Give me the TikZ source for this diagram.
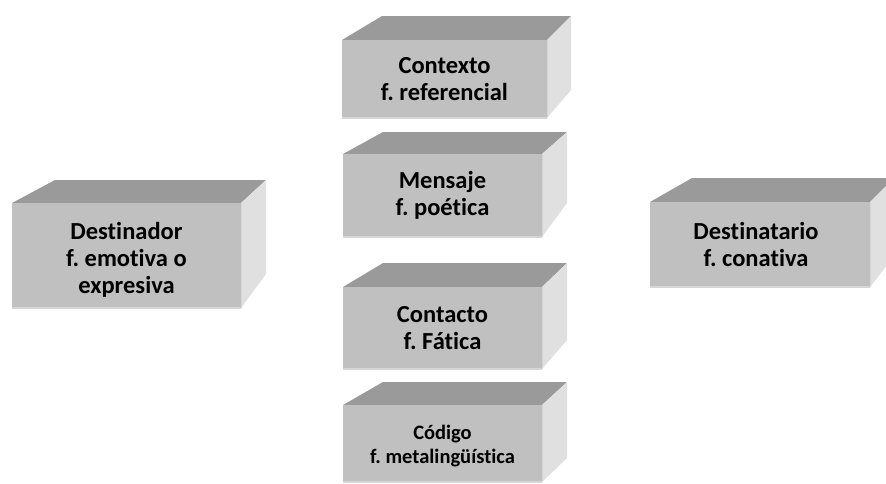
\documentclass[tikz,border=0pt]{standalone}
\usepackage{fontspec}
\setmainfont{Carlito}[Ligatures={NoCommon,TeX}]
\frenchspacing
\definecolor{topc}{HTML}{9A9A9A}
\definecolor{frontc}{HTML}{C0C0C0}
\definecolor{sidec}{HTML}{E0E0E0}
\definecolor{edgec}{HTML}{D6D6D6}
% #1 name, #2 x1, #3 y1, #4 x2, #5 y2 (front), #6 back top y, #7 back left x, #8 back right x, #9 back bottom y
\newcommand\cubebox[9]{%
  \fill[topc] (#2,#3) -- (#7,#6) -- (#8,#6) -- (#4,#3) -- cycle;
  \fill[sidec] (#4,#3) -- (#8,#6) -- (#8,#9) -- (#4,#5) -- cycle;
  \fill[frontc] (#2,#3) rectangle (#4,#5);
  \draw[edgec, line width=1.5pt] (#2,#5) -- (#4,#5);
  \draw[edgec, line width=1pt] (#4,#3) -- (#4,#5);
  \coordinate (#1) at ({(#2+#4)/2},{(#3+#5)/2});
}
\tikzset{
  lbl/.style={align=center, inner sep=0pt, font=\bfseries\fontsize{24.5}{27}\selectfont},
  lblsmall/.style={align=center, inner sep=0pt, font=\bfseries\fontsize{20.5}{24}\selectfont}
}
\begin{document}
\begin{tikzpicture}[x=1pt,y=-1pt]
\useasboundingbox (0,0) rectangle (886,483);
\fill[white] (0,0) rectangle (886,483);
\cubebox{ctxc}{342}{40}{547}{118}{16}{382}{571}{90}
\cubebox{mnsc}{343}{154}{542}{237}{132}{383}{567}{203}
\cubebox{cntc}{343}{287}{542}{369}{263}{383}{567}{340}
\cubebox{codc}{343}{405}{542}{482}{382}{383}{567}{458}
\cubebox{dstc}{12}{203}{241}{308}{180}{55}{266}{274}
\cubebox{dsac}{650}{202}{870}{287}{178}{692}{894}{256}
\node[lbl] (ctx) at (ctxc) {Contexto\\f. referencial};
\node[lbl] (mns) at (mnsc) {Mensaje\\f. poética};
\node[lbl] (cnt) at (cntc) {Contacto\\f. Fática};
\node[lblsmall] (cod) at ([yshift=-3pt]codc) {Código\\f. metalingüística};
\node[lbl] (dst) at ([yshift=-4pt]dstc) {Destinador\\f. emotiva o\\expresiva};
\node[lbl] (dsa) at ([xshift=-4pt]dsac) {Destinatario\\f. conativa};
\end{tikzpicture}
\end{document}
